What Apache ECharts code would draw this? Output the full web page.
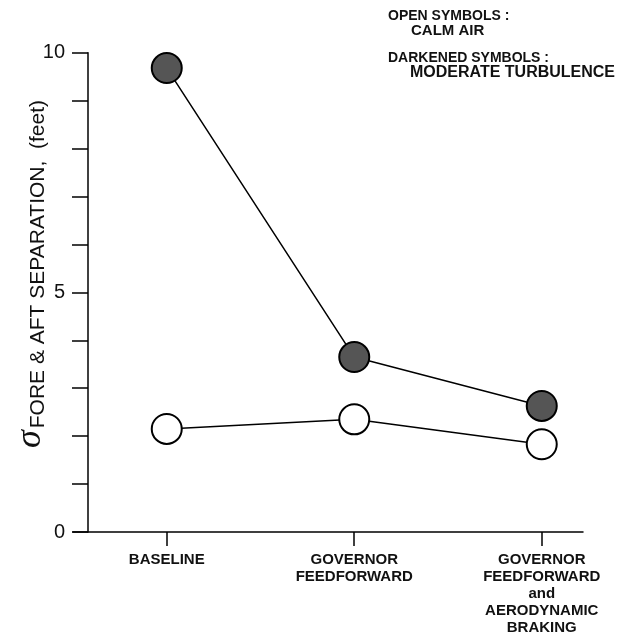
<!DOCTYPE html>
<html><head><meta charset="utf-8">
<script src="https://cdn.jsdelivr.net/npm/echarts@6/dist/echarts.min.js"></script>
<style>html,body{margin:0;padding:0;background:#fff}#c{width:630px;height:644px}</style>
</head><body><div id="c"></div>
<script>
const categories = ['BASELINE', 'GOVERNOR\nFEEDFORWARD', 'GOVERNOR\nFEEDFORWARD\nand\nAERODYNAMIC\nBRAKING'];
const categoryPositions = [1, 2, 3];
const calmAir = [2.15, 2.35, 1.83];
const moderateTurbulence = [9.68, 3.65, 2.63];
const yLabeledTicks = [0, 5, 10];
const legendLines = ['OPEN SYMBOLS :', 'CALM AIR', 'DARKENED SYMBOLS :', 'MODERATE TURBULENCE'];

const FONT = '"Liberation Sans", Arial, sans-serif';
const chart = echarts.init(document.getElementById('c'), null, {renderer: 'canvas'});

const pairs = vals => categoryPositions.map((x, i) => [x, vals[i]]);

chart.setOption({
  backgroundColor: '#fff',
  animation: false,
  grid: {left: 73, right: 47, top: 52.7, bottom: 112, outerBoundsMode: 'none', containLabel: false},
  xAxis: {
    type: 'value', min: 0.5, max: 3.22,
    axisLine: {show: true, onZero: false, lineStyle: {color: '#000', width: 1.5}},
    axisTick: {show: true, customValues: categoryPositions, length: 14, lineStyle: {color: '#000', width: 1.5}},
    axisLabel: {
      show: true, customValues: categoryPositions, margin: 19,
      formatter: v => categories[Math.round(v) - 1] || '',
      color: '#111', fontFamily: FONT, fontSize: 15, fontWeight: 'bold', lineHeight: 17, align: 'center'
    },
    splitLine: {show: false}
  },
  yAxis: {
    type: 'value', min: 0, max: 10, interval: 1, offset: -15,
    axisLine: {show: true, onZero: false, lineStyle: {color: '#000', width: 1.5}},
    axisTick: {show: true, length: 16, lineStyle: {color: '#000', width: 1.5}},
    axisLabel: {
      show: true, margin: 23,
      formatter: v => (yLabeledTicks.indexOf(v) >= 0 ? String(v) : ''),
      color: '#111', fontFamily: FONT, fontSize: 20
    },
    splitLine: {show: false}
  },
  graphic: [
    {
      type: 'text', left: 388, top: 9,
      style: {text: legendLines[0], font: 'bold 14px ' + FONT, fill: '#111'}
    },
    {
      type: 'text', left: 411, top: 23,
      style: {text: legendLines[1], font: 'bold 15px ' + FONT, fill: '#111'}
    },
    {
      type: 'text', left: 388, top: 51,
      style: {text: legendLines[2], font: 'bold 14px ' + FONT, fill: '#111'}
    },
    {
      type: 'text', left: 410, top: 65,
      style: {text: legendLines[3], font: 'bold 16px ' + FONT, fill: '#111'}
    },
    {
      type: 'text', x: 31, y: 274, rotation: Math.PI / 2,
      style: {
        text: '{s|σ}{b|FORE & AFT SEPARATION,  (feet)}',
        align: 'center', verticalAlign: 'middle',
        rich: {
          s: {fontFamily: '"Liberation Serif", serif', fontStyle: 'italic', fontSize: 36, fill: '#111', verticalAlign: 'bottom'},
          b: {fontFamily: FONT, fontSize: 21, fill: '#111', verticalAlign: 'bottom', padding: [0, 0, 0, 2]}
        }
      }
    }
  ],
  series: [
    {
      name: 'MODERATE TURBULENCE', type: 'line', data: pairs(moderateTurbulence),
      symbol: 'circle', symbolSize: 30, z: 3,
      lineStyle: {color: '#000', width: 1.5},
      itemStyle: {color: '#555', borderColor: '#000', borderWidth: 2}
    },
    {
      name: 'CALM AIR', type: 'line', data: pairs(calmAir),
      symbol: 'circle', symbolSize: 30, z: 3,
      lineStyle: {color: '#000', width: 1.5},
      itemStyle: {color: '#fff', borderColor: '#000', borderWidth: 2}
    }
  ]
});
</script></body></html>
